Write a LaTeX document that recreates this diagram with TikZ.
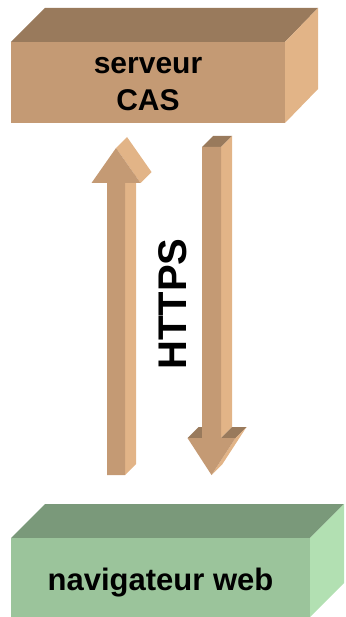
\documentclass[tikz,border=0pt]{standalone}
\usepackage{fontspec}
\setmainfont{Liberation Sans}
\definecolor{tanfront}{RGB}{196,154,116}
\definecolor{tantop}{RGB}{153,122,92}
\definecolor{tanside}{RGB}{226,180,135}
\definecolor{grfront}{RGB}{155,196,155}
\definecolor{grtop}{RGB}{122,153,122}
\definecolor{grside}{RGB}{178,224,178}
\tikzset{
  lbl/.style={font=\bfseries, text=black, inner sep=0pt}
}
\begin{document}
\begin{tikzpicture}[x=1pt,y=-1pt]
\useasboundingbox (0,0) rectangle (345,617);
% ---- serveur CAS box ----
\fill[tantop]  (11,42) -- (285,42) -- (318,8) -- (45,8) -- cycle;
\fill[tanside] (285,42) -- (318,8) -- (318,89) -- (285,123) -- cycle;
\fill[tanfront] (11,42) rectangle (285,123);
\node[lbl, align=center, font=\bfseries\fontsize{30}{37}\selectfont] (server) at (148,84.5) {serveur\\CAS};
% ---- navigateur web box ----
\fill[grtop]  (11,538) -- (310,538) -- (344,504) -- (45,504) -- cycle;
\fill[grside] (310,538) -- (344,504) -- (344,583) -- (310,617) -- cycle;
\fill[grfront] (11,538) rectangle (310,617);
\node[lbl, anchor=base, font=\bfseries\fontsize{31}{36}\selectfont] (nav) at (160.5,590) {navigateur web};
% ---- up arrow ----
\fill[tanside] (125,475) -- (125,183) -- (136,172) -- (136,464) -- cycle;
\fill[tanside] (140.5,183) -- (116,148) -- (127,137) -- (151.5,172) -- cycle;
\fill[tanfront] (107,475) -- (107,183) -- (91.5,183) -- (116,148) -- (140.5,183) -- (125,183) -- (125,475) -- cycle;
% ---- down arrow ----
\fill[tantop]  (202,147) -- (221,147) -- (232,136) -- (213,136) -- cycle;
\fill[tanside] (221,147) -- (232,136) -- (232,427) -- (221,438) -- cycle;
\fill[tantop]  (187.5,438) -- (202,438) -- (213,427) -- (198.5,427) -- cycle;
\fill[tantop]  (221,438) -- (235.5,438) -- (246.5,427) -- (232,427) -- cycle;
\fill[tanside] (235.5,438) -- (211.5,475) -- (222.5,464) -- (246.5,427) -- cycle;
\fill[tanfront] (202,147) -- (221,147) -- (221,438) -- (235.5,438) -- (211.5,475) -- (187.5,438) -- (202,438) -- cycle;
% ---- HTTPS label ----
\node[lbl, rotate=90, anchor=base, font=\bfseries\fontsize{40}{48}\selectfont] (https) at (186,304) {HTTPS};
\end{tikzpicture}
\end{document}
